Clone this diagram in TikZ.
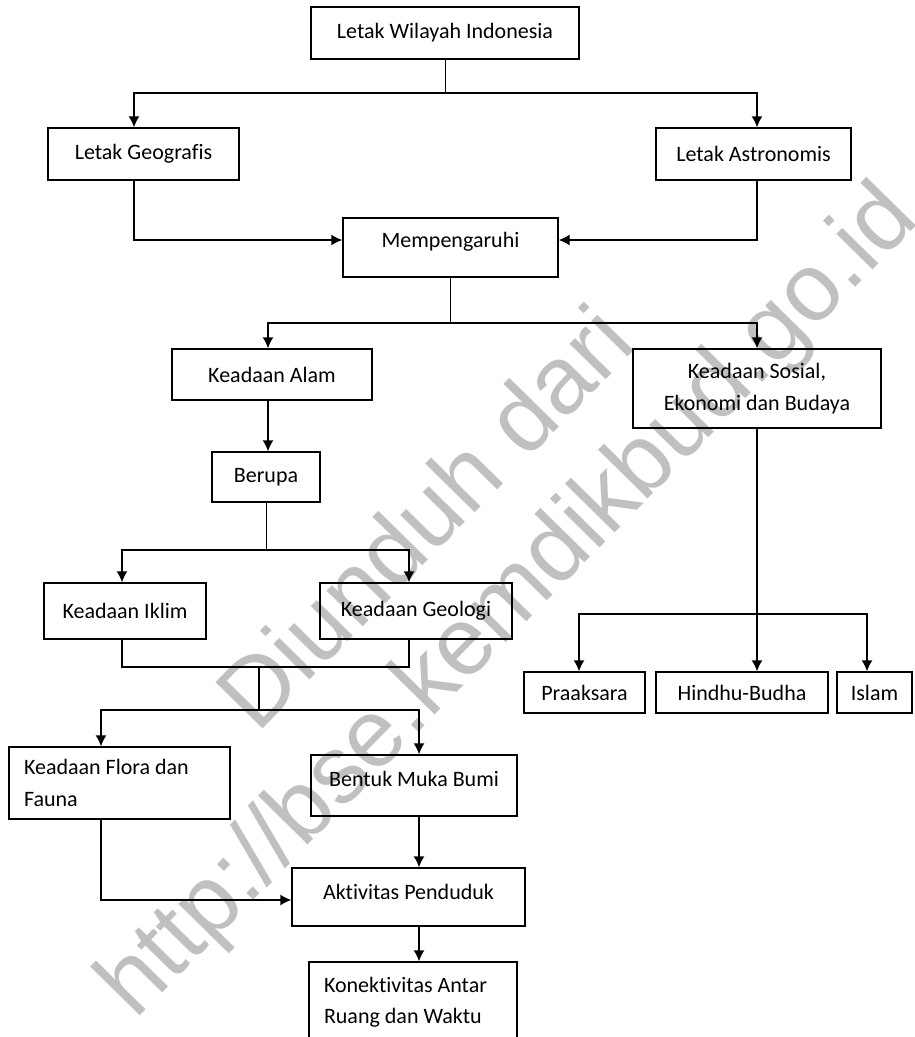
\documentclass[tikz,border=0pt]{standalone}
\usepackage{fontspec}
\setmainfont{Carlito}[Ligatures=NoCommon]
\newfontfamily\wmfont{Liberation Sans}
\usepackage{tikz}
\usetikzlibrary{arrows.meta}
\tikzset{>={Latex[length=11pt,width=11pt]}}
\definecolor{watermark}{HTML}{C0C0C0}
\tikzset{
  kotak/.style={draw, line width=1.4pt, inner sep=0pt, font=\fontsize{22}{31.5}\selectfont},
  panah/.style={line width=1.4pt},
  tipis/.style={line width=0.9pt},
  wm/.style={text=watermark, inner sep=0pt, font=\wmfont\fontsize{96}{96}\selectfont},
}

\begin{document}
\begin{tikzpicture}[x=1pt, y=-1pt]
            \useasboundingbox (0,0) rectangle (914,1037);
            % tanda air
            \node[wm, rotate=45.5, anchor=base] (wm1) at (448,540) {Diunduh dari};
            \node[wm, rotate=45.5, anchor=base] (wm2) at (528,621) {http://bse.kemdikbud.go.id};
            % kotak
            \node[kotak, minimum width=268pt, minimum height=52pt] (wilayah) at (445,33) {Letak Wilayah Indonesia};
            \node[kotak, minimum width=191pt, minimum height=52pt] (geo) at (143.5,154) {Letak Geografis};
            \node[kotak, minimum width=195pt, minimum height=52pt] (astro) at (753.5,154) {Letak Astronomis};
            \node[kotak, minimum width=215pt, minimum height=59pt, text depth=16pt] (pengaruh) at (450.5,247.5) {Mempengaruhi};
            \node[kotak, minimum width=200pt, minimum height=51pt] (alam) at (272,374.5) {Keadaan Alam};
            \node[kotak, minimum width=248pt, minimum height=79pt, align=center] (sosial) at (757,388.5) {Keadaan Sosial,\\Ekonomi dan Budaya};
            \node[kotak, minimum width=108pt, minimum height=50pt] (berupa) at (266,477) {Berupa};
            \node[kotak, minimum width=162pt, minimum height=56pt] (iklim) at (125,611) {Keadaan Iklim};
            \node[kotak, minimum width=192pt, minimum height=56pt] (geologi) at (416,611) {Keadaan Geologi};
            \node[kotak, minimum width=121pt, minimum height=41pt] (praaksara) at (584.5,692.5) {Praaksara};
            \node[kotak, minimum width=172pt, minimum height=41pt] (hindu) at (742,692.5) {Hindhu-Budha};
            \node[kotak, minimum width=75pt, minimum height=41pt] (islam) at (874.5,692.5) {Islam};
            \node[kotak, inner xsep=15pt, text width=191pt, minimum height=72pt, align=flush left] (flora) at (119.5,783) {Keadaan Flora dan\\Fauna};
            \node[kotak, minimum width=206pt, minimum height=61pt, text depth=13pt] (bumi) at (414,785.5) {Bentuk Muka Bumi};
            \node[kotak, minimum width=233pt, minimum height=58pt, text depth=10pt] (aktivitas) at (408.5,897) {Aktivitas Penduduk};
            \node[kotak, inner xsep=15pt, text width=178pt, minimum height=80pt, align=flush left] (konek) at (413,1002) {Konektivitas Antar\\Ruang dan Waktu};
            % titik cabang
            \coordinate (s1) at (445,93);
            \coordinate (s2) at (450.5,323);
            \coordinate (s3) at (266,550);
            \coordinate (s4) at (259,667);
            \coordinate (s5) at (259,710);
            \coordinate (s6) at (757,614);
            % penghubung
            \draw[tipis] (wilayah.south) -- (s1);
            \draw[panah, ->] (s1) -| ([xshift=-9.5pt]geo.north);
            \draw[panah, ->] (s1) -| ([xshift=3.5pt]astro.north);
            \draw[panah, ->] ([xshift=-9.5pt]geo.south) |- ([yshift=7.5pt]pengaruh.west);
            \draw[panah, ->] ([xshift=3.5pt]astro.south) |- ([yshift=7.5pt]pengaruh.east);
            \draw[tipis] (pengaruh.south) -- (s2);
            \draw[panah, ->] (s2) -| ([xshift=-4pt]alam.north);
            \draw[panah, ->] (s2) -| (sosial.north);
            \draw[panah, ->] ([xshift=-4pt]alam.south) -- ([xshift=-4pt]alam.south |- berupa.north);
            \draw[tipis] (berupa.south) -- (s3);
            \draw[panah, ->] (s3) -| ([xshift=-3pt]iklim.north);
            \draw[panah, ->] (s3) -| ([xshift=-7pt]geologi.north);
            \draw[panah] ([xshift=-3pt]iklim.south) |- (s4);
            \draw[panah] ([xshift=-7pt]geologi.south) |- (s4);
            \draw[panah] (s4) -- (s5);
            \draw[panah, ->] (s5) -| ([xshift=-18.5pt]flora.north);
            \draw[panah, ->] (s5) -| ([xshift=5pt]bumi.north);
            \draw[panah, ->] ([xshift=5pt]bumi.south) -- ([xshift=5pt]bumi.south |- aktivitas.north);
            \draw[panah, ->] ([xshift=-18.5pt]flora.south) |- ([yshift=-3pt]aktivitas.west);
            \draw[panah, ->] ([xshift=10.5pt]aktivitas.south) -- ([xshift=10.5pt]aktivitas.south |- konek.north);
            \draw[panah] (sosial.south) -- (s6);
            \draw[panah, ->] (s6) -| ([xshift=-5.5pt]praaksara.north);
            \draw[panah, ->] (s6) -- (s6 |- hindu.north);
            \draw[panah, ->] (s6) -| ([xshift=-7.5pt]islam.north);
\end{tikzpicture}
\end{document}
